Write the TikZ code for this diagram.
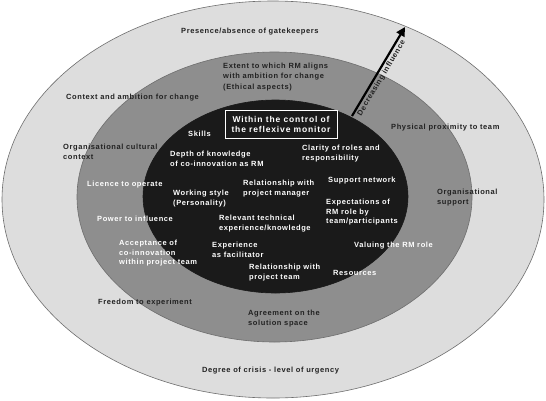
\documentclass[tikz,border=0pt]{standalone}
\usepackage{fontspec}
\setmainfont{Liberation Sans}[LetterSpace=8]
\usetikzlibrary{arrows.meta}
\definecolor{outerc}{RGB}{221,221,221}
\definecolor{midc}{RGB}{142,142,142}
\definecolor{innerc}{RGB}{26,26,26}
\definecolor{edgec}{RGB}{110,110,110}
\definecolor{txtdark}{RGB}{34,34,34}
\tikzset{
  lbl/.style={anchor=north west, inner sep=0pt, align=left,
              font=\fontsize{7.5}{9.5}\selectfont\bfseries},
  dk/.style={lbl, text=txtdark},
  wt/.style={lbl, text=white},
  ring/.style={draw=edgec, line width=0.6pt}
}
\begin{document}
\begin{tikzpicture}[x=1pt, y=-1pt]
\useasboundingbox (0,0) rectangle (546,400);
\fill[white] (0,0) rectangle (546,400);
% rings
\filldraw[ring, fill=outerc] (273,199.5) ellipse [x radius=271, y radius=198.5];
\filldraw[ring, fill=midc] (274.5,197) ellipse [x radius=197.5, y radius=145];
\filldraw[ring, fill=innerc, draw=innerc] (275.5,196.5) ellipse [x radius=132.5, y radius=96.5];

% outer ring labels
\node[dk] (gate) at (181,28) {Presence/absence of gatekeepers};
\node[dk] (crisis) at (202,367) {Degree of crisis - level of urgency};
\node[dk] (context) at (66,94) {Context and ambition for change};
\node[dk] (orgcult) at (63,144) {Organisational cultural\\context};
\node[dk] (phys) at (391,123.5) {Physical proximity to team};
\node[dk] (orgsup) at (437,189) {Organisational\\support};
\node[dk] (freedom) at (98,299) {Freedom to experiment};

% middle ring labels
\node[dk] (extent) at (223,63) {Extent to which RM aligns\\with ambition for change\\[2pt](Ethical aspects)};
\node[dk] (agree) at (248,310) {Agreement on the\\solution space};
\node[wt] (licence) at (87,181) {Licence to operate};
\node[wt] (power) at (97,216) {Power to influence};
\node[wt] (accept) at (119,240) {Acceptance of\\co-innovation\\within project team};
\node[wt] (valuing) at (354,242) {Valuing the RM role};
\node[wt] (resources) at (333,270) {Resources};

% inner labels
\node[draw=white, line width=0.6pt, text=white, align=center, minimum width=112pt,
      minimum height=28pt, inner sep=0pt,
      font=\fontsize{8.5}{10}\selectfont\bfseries\addfontfeature{LetterSpace=10}]
      (control) at (281,124) {Within the control of\\the reflexive monitor};
\node[wt] (skills) at (188,131) {Skills};
\node[wt] (depth) at (170,151) {Depth of knowledge\\of co-innovation as RM};
\node[wt] (clarity) at (302,145) {Clarity of roles and\\responsibility};
\node[wt] (working) at (173,190) {Working style\\(Personality)};
\node[wt] (relpm) at (243,180) {Relationship with\\project manager};
\node[wt] (support) at (328,177) {Support network};
\node[wt] (relevant) at (219,215) {Relevant technical\\experience/knowledge};
\node[wt] (expect) at (326,199) {Expectations of\\RM role by\\team/participants};
\node[wt] (experience) at (212,242) {Experience\\as facilitator};
\node[wt] (relteam) at (249,264) {Relationship with\\project team};

% arrow
\coordinate (atail) at (352,116);
\coordinate (ahead) at (405,27);
\draw[line width=2.2pt, -{Triangle[length=9pt,width=9pt]}] (atail) -- (ahead)
  node[pos=0.46, sloped, below=0.5pt, inner sep=1pt, text=txtdark,
       font=\fontsize{7.5}{9}\selectfont\bfseries] (decr) {Decreasing influence};
\end{tikzpicture}
\end{document}
